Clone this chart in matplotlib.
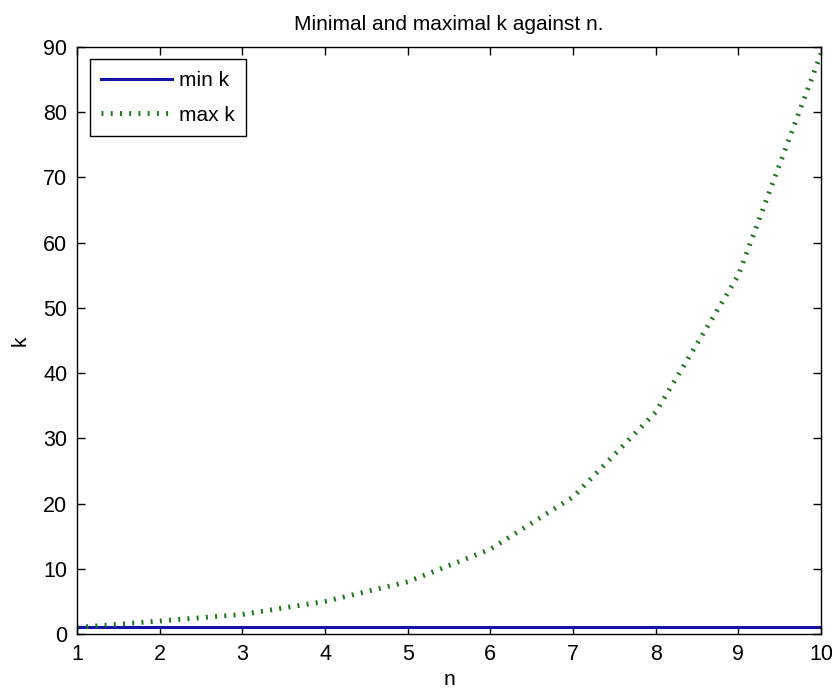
import matplotlib
matplotlib.use("Agg")
import matplotlib.pyplot as plt

n = [1, 2, 3, 4, 5, 6, 7, 8, 9, 10]
min_k = [1, 1, 1, 1, 1, 1, 1, 1, 1, 1]
max_k = [1, 2, 3, 5, 8, 13, 21, 34, 55, 89]

plt.rcParams['font.family'] = ['Liberation Sans', 'DejaVu Sans']

fig = plt.figure(figsize=(8.32, 6.89), dpi=100)
ax = fig.add_axes([77/832, 1 - 634/689, (821-77)/832, (634-47)/689])

ax.plot(n, min_k, color='#1414a8', lw=2.2, label='min k')
ax.plot(n, max_k, color='#1a751a', lw=3.5, linestyle=(0, (0.4, 1.5)),
        dash_capstyle='butt', label='max k')

ax.set_xlim(1, 10)
ax.set_ylim(0, 90)
ax.set_xticks(range(1, 11))
ax.set_yticks(range(0, 91, 10))
ax.tick_params(direction='in', top=True, right=True, length=6, width=1,
               labelsize=15.5, pad=7)
for s in ax.spines.values():
    s.set_linewidth(1)
ax.set_title('Minimal and maximal k against n.', fontsize=15, pad=12)
ax.set_xlabel('n', fontsize=15, labelpad=4)
ax.set_ylabel('k', fontsize=15, labelpad=10)
leg = ax.legend(loc='upper left', fontsize=15, frameon=True, fancybox=False,
                edgecolor='black', framealpha=1, borderaxespad=0.6,
                handlelength=3.4, handletextpad=0.35, borderpad=0.55,
                labelspacing=0.75)
leg.get_frame().set_linewidth(1)

fig.savefig('out.png', dpi=100)
